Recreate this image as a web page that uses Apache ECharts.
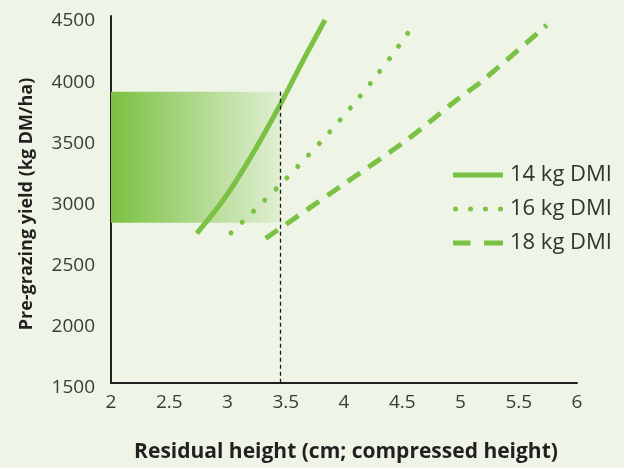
<!DOCTYPE html>
<html><head><meta charset="utf-8">
<script src="https://cdn.jsdelivr.net/npm/echarts@6/dist/echarts.min.js"></script>
<style>html,body{margin:0;padding:0;background:#EEF5E6}#c{width:624px;height:468px}</style>
</head><body><div id="c"></div>
<script>
// ---- data ----
const xTicks = [2, 2.5, 3, 3.5, 4, 4.5, 5, 5.5, 6];
const yTicks = [1500, 2000, 2500, 3000, 3500, 4000, 4500];
const seriesNames = ['14 kg DMI', '16 kg DMI', '18 kg DMI'];
const x14 = [2.736, 2.964, 3.193, 3.451, 3.651, 3.837];
const y14 = [2723, 2996, 3336, 3772, 4140, 4467];
const x16 = [3.030, 3.422, 3.800, 4.069, 4.243, 4.409, 4.567];
const y16 = [2726, 3091, 3470, 3764, 3969, 4175, 4386];
const x18 = [3.328, 3.966, 4.538, 4.967, 5.196, 5.740];
const y18 = [2682, 3104, 3486, 3813, 3977, 4426];
const bandX = [2, 3.45];
const bandY = [2810, 3880];
const refX = 3.45;
const xTitle = 'Residual height (cm; compressed height)';
const yTitle = 'Pre-grazing yield (kg DM/ha)';

const zip = (a, b) => a.map((v, i) => [v, b[i]]);
const G = '#7BC143';
const FONT = '"Open Sans", "Noto Sans", sans-serif';
const chart = echarts.init(document.getElementById('c'), null, {renderer: 'canvas'});

const dotIcon = 'path://' + [0, 15, 30, 45].map(o =>
  `M${o},2.5A2.5,2.5,0,1,1,${o + 5},2.5A2.5,2.5,0,1,1,${o},2.5Z`).join(' ');
const dashIcon = 'path://M0,0H17.5V5H0Z M31,0H50V5H31Z';
const solidIcon = 'path://M0,0H50V5H0Z';
const icons = [solidIcon, dotIcon, dashIcon];

const base = {type: 'line', symbol: 'none', smooth: 0.3, z: 4};
chart.setOption({
  backgroundColor: '#EEF5E6',
  animation: false,
  grid: {left: 111, right: 47, top: 16, bottom: 85},
  xAxis: {
    type: 'value', min: xTicks[0], max: xTicks[xTicks.length - 1], interval: xTicks[1] - xTicks[0],
    axisLine: {show: true, onZero: false, lineStyle: {color: '#231F20', width: 2}},
    axisTick: {show: false}, splitLine: {show: false},
    axisLabel: {margin: 10, fontSize: 19, color: '#3a3a3a', fontFamily: FONT, formatter: v => String(v)}
  },
  yAxis: {
    type: 'value', min: yTicks[0], max: yTicks[yTicks.length - 1], interval: yTicks[1] - yTicks[0],
    axisLine: {show: true, onZero: false, lineStyle: {color: '#231F20', width: 2}},
    axisTick: {show: false}, splitLine: {show: false},
    axisLabel: {margin: 16, fontSize: 19, color: '#3a3a3a', fontFamily: FONT,
      verticalAlign: 'top', lineHeight: 10, formatter: v => String(v)}
  },
  legend: {
    orient: 'vertical', left: 453, top: 164, padding: 0, itemWidth: 50, itemHeight: 5, itemGap: 12,
    symbolKeepAspect: false,
    data: seriesNames.map((n, i) => ({name: n, icon: icons[i]})),
    itemStyle: {color: G},
    textStyle: {fontSize: 22, lineHeight: 22, color: '#333', fontFamily: FONT, padding: [0, 0, 0, 2]}
  },
  graphic: [
    {type: 'text', x: 346, y: 452, style: {text: xTitle, align: 'center', verticalAlign: 'middle', font: 'bold 21px ' + FONT, fill: '#231F20'}},
    {type: 'text', x: 27, y: 204, rotation: Math.PI / 2, style: {text: yTitle, align: 'center', verticalAlign: 'middle', font: 'bold 18px ' + FONT, fill: '#231F20'}}
  ],
  series: [
    {
      type: 'line', name: 'band', data: [[bandX[0], bandY[0]]], symbol: 'none',
      lineStyle: {width: 0, opacity: 0}, z: 1, silent: true,
      markArea: {
        silent: true,
        itemStyle: {color: new echarts.graphic.LinearGradient(0, 0, 1, 0, [
          {offset: 0, color: 'rgba(123,193,67,1)'},
          {offset: 1, color: 'rgba(123,193,67,0.12)'}
        ])},
        data: [[{xAxis: bandX[0], yAxis: bandY[1]}, {xAxis: bandX[1], yAxis: bandY[0]}]]
      },
      markLine: {
        silent: true, symbol: ['none', 'none'], label: {show: false},
        lineStyle: {color: '#1a1a1a', type: [4, 3], width: 1.3},
        data: [[{coord: [refX, bandY[1]]}, {coord: [refX, yTicks[0]]}]]
      }
    },
    Object.assign({}, base, {name: seriesNames[0], data: zip(x14, y14), itemStyle: {color: G},
      lineStyle: {color: G, width: 5, type: 'solid'}}),
    Object.assign({}, base, {name: seriesNames[1], data: zip(x16, y16), itemStyle: {color: G},
      lineStyle: {color: G, width: 5, type: [0.01, 15.7], cap: 'round'}}),
    Object.assign({}, base, {name: seriesNames[2], data: zip(x18, y18), itemStyle: {color: G},
      lineStyle: {color: G, width: 5, type: [15, 10], cap: 'butt'}})
  ]
});
</script></body></html>
